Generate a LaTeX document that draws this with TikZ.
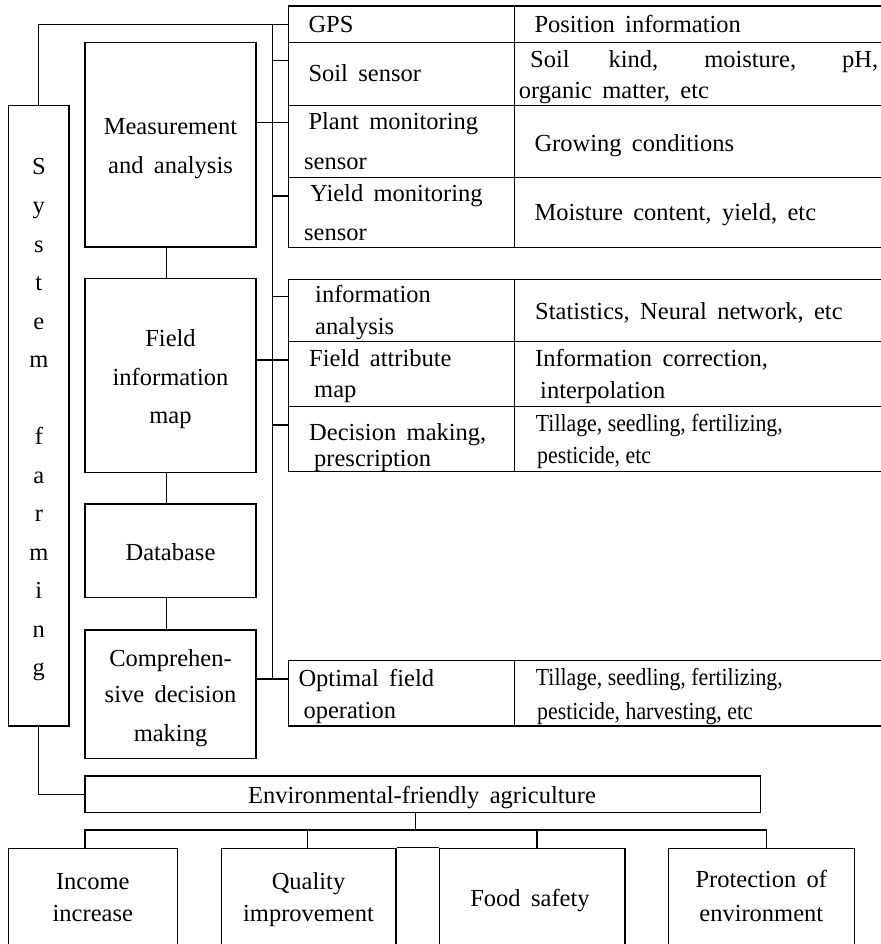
\documentclass[tikz,border=0pt]{standalone}
\usepackage{fontspec}
\setmainfont[WordSpace=1.7]{Liberation Serif}
\newfontfamily\condfont[FakeStretch=0.89]{Liberation Serif}
\usetikzlibrary{fit,calc}
\tikzset{
  ln/.style={line width=1.2pt},
  boxn/.style={draw, line width=1.2pt, inner sep=0pt},
  txt/.style={inner sep=0pt, anchor=base west, font=\fontsize{24.5}{30}\selectfont},
  ctxt/.style={inner sep=0pt, anchor=base west, font=\fontsize{24.5}{30}\selectfont\condfont},
  mtxt/.style={inner sep=0pt, anchor=base, font=\fontsize{24.5}{30}\selectfont},
}
\begin{document}
\begin{tikzpicture}[x=1pt,y=-1pt]
\fill[white] (0,0) rectangle (880,944);
\useasboundingbox (0,0) rectangle (880,944);

% left column boxes
\node[boxn, fit={(8.7,105.3)(69,726)}] (sys) {};
\node[boxn, fit={(85,42.3)(256,247)}] (meas) {};
\node[boxn, fit={(85,278.7)(256,472.3)}] (field) {};
\node[boxn, fit={(85,504)(256,597.7)}] (db) {};
\node[boxn, fit={(85,630)(256,758.3)}] (comp) {};

% table cells
\node[boxn, fit={(288.3,6)(514.3,42.3)}] (gpsL) {};
\node[boxn, fit={(514.3,6)(886,42.3)}] (gpsR) {};
\node[boxn, fit={(288.3,42.3)(514.3,105.3)}] (soilL) {};
\node[boxn, fit={(514.3,42.3)(886,105.3)}] (soilR) {};
\node[boxn, fit={(288.3,105.3)(514.3,177.7)}] (plantL) {};
\node[boxn, fit={(514.3,105.3)(886,177.7)}] (plantR) {};
\node[boxn, fit={(288.3,177.7)(514.3,247.3)}] (yieldL) {};
\node[boxn, fit={(514.3,177.7)(886,247.3)}] (yieldR) {};
\node[boxn, fit={(288.3,279.3)(514.3,341.7)}] (infoL) {};
\node[boxn, fit={(514.3,279.3)(886,341.7)}] (infoR) {};
\node[boxn, fit={(288.3,341.7)(514.3,406.7)}] (faL) {};
\node[boxn, fit={(514.3,341.7)(886,406.7)}] (faR) {};
\node[boxn, fit={(288.3,406.7)(514.3,471.7)}] (decL) {};
\node[boxn, fit={(514.3,406.7)(886,471.7)}] (decR) {};
\node[boxn, fit={(288.3,660.7)(514.3,726)}] (optL) {};
\node[boxn, fit={(514.3,660.7)(886,726)}] (optR) {};

% bottom boxes
\node[boxn, fit={(85,776)(760.7,812.3)}] (env) {};
\node[boxn, fit={(8.3,848.3)(177.3,952)}] (inc) {};
\node[boxn, fit={(221.7,848.3)(396,952)}] (qual) {};
\node[boxn, fit={(439.3,848.3)(625,952)}] (food) {};
\node[boxn, fit={(668.7,848.3)(854.3,952)}] (prot) {};

% connector coordinates
\coordinate (busX) at (272.7,0);
\coordinate (hb) at (0,830);
\coordinate (soilS) at ([yshift=13.1pt]soilL.west);
\coordinate (plantS) at ([yshift=18.8pt]plantL.west);
\coordinate (yieldS) at ([yshift=16.5pt]yieldL.west);
\coordinate (infoS) at ([yshift=13.8pt]infoL.west);
\coordinate (faS) at ([yshift=14.2pt]faL.west);
\coordinate (decS) at ([yshift=14.2pt]decL.west);
\coordinate (optS) at ([yshift=14.4pt]optL.west);

% connectors
\draw[ln] (sys.north) |- (gpsL.west);
\draw[ln] (gpsL.west -| busX) -- (optS -| busX);
\draw[ln] (soilS -| busX) -- (soilS);
\draw[ln] (meas.east |- plantS) -- (plantS);
\draw[ln] (yieldS -| busX) -- (yieldS);
\draw[ln] (infoS -| busX) -- (infoS);
\draw[ln] (field.east |- faS) -- (faS);
\draw[ln] (decS -| busX) -- (decS);
\draw[ln] (comp.east |- optS) -- (optS);
\draw[ln] ([xshift=-3.8pt]meas.south) -- ([xshift=-3.8pt]field.north);
\draw[ln] ([xshift=-3.8pt]field.south) -- ([xshift=-3.8pt]db.north);
\draw[ln] ([xshift=-3.8pt]db.south) -- ([xshift=-3.8pt]comp.north);
\draw[ln] (sys.south) |- (env.west);
\draw[ln] ([xshift=-7pt]env.south) -- ([xshift=-7pt]env.south |- hb);
\draw[ln] ([xshift=-7.8pt]inc.north) |- ([xshift=5.2pt]prot.north |- hb) -- ([xshift=5.2pt]prot.north);
\draw[ln] ([xshift=-1.6pt]qual.north) -- ([xshift=-1.6pt]qual.north |- hb);
\draw[ln] ([xshift=4.8pt]food.north) -- ([xshift=4.8pt]food.north |- hb);
\draw[ln] (qual.north east) -- (food.north west);

% System farming vertical letters
\foreach \ch [count=\i] in {S,y,s,t,e,m,{},f,a,r,m,i,n,g}
  \node[mtxt] (sysc\i) at ({38.85},{175+38.5*(\i-1)}) {\ch};

% left box texts
\node[mtxt] (measT1) at (170.5,135) {Measurement};
\node[mtxt] (measT2) at (170.5,173.3) {and analysis};
\node[mtxt] (fieldT1) at (170.5,346.7) {Field};
\node[mtxt] (fieldT2) at (170.5,385) {information};
\node[mtxt] (fieldT3) at (170.5,423.3) {map};
\node[mtxt] (dbT) at (170.5,560) {Database};
\node[mtxt] (compT1) at (170.5,666) {Comprehen-};
\node[mtxt] (compT2) at (170.5,702.7) {sive decision};
\node[mtxt] (compT3) at (170.5,741) {making};

% table texts
\node[txt] (gpsT) at (308.3,33) {GPS};
\node[txt] (posT) at (534.3,33) {Position information};
\node[txt] (soilT) at (308.3,81.7) {Soil sensor};
\node[txt] (soilR1) at (530,68) {\makebox[348pt][s]{Soil kind, moisture, pH,}};
\node[txt] (soilR2) at (518.7,98.3) {organic matter, etc};
\node[txt] (plantT1) at (308.3,129.3) {Plant monitoring};
\node[txt] (plantT2) at (304,170) {sensor};
\node[txt] (growT) at (534.3,151.7) {Growing conditions};
\node[txt] (yieldT1) at (310,201.7) {Yield monitoring};
\node[txt] (yieldT2) at (304,240) {sensor};
\node[txt] (moistT) at (534.3,220.7) {Moisture content, yield, etc};
\node[txt] (infoT1) at (315,302.7) {information};
\node[txt] (infoT2) at (315,334) {analysis};
\node[txt] (statT) at (535,319.3) {Statistics, Neural network, etc};
\node[txt] (faT1) at (309,366.7) {Field attribute};
\node[txt] (faT2) at (314,397.7) {map};
\node[txt] (corrT1) at (535,366.7) {Information correction,};
\node[txt] (corrT2) at (540,398.3) {interpolation};
\node[txt] (decT1) at (309,440) {Decision making,};
\node[txt] (decT2) at (314,466) {prescription};
\node[ctxt] (tilT1) at (535.7,431.7) {Tillage, seedling, fertilizing,};
\node[ctxt] (tilT2) at (537,463.3) {pesticide, etc};
\node[txt] (optT1) at (298.3,686.7) {Optimal field};
\node[txt] (optT2) at (303.3,718.3) {operation};
\node[ctxt] (op2T1) at (535.7,685) {Tillage, seedling, fertilizing,};
\node[ctxt] (op2T2) at (537,719.3) {pesticide, harvesting, etc};

% bottom texts
\node[mtxt] (envT) at (422,803.3) {Environmental-friendly agriculture};
\node[mtxt] (incT1) at (92.8,889) {Income};
\node[mtxt] (incT2) at (92.8,921.7) {increase};
\node[mtxt] (qualT1) at (308.5,889) {Quality};
\node[mtxt] (qualT2) at (308.5,921.7) {improvement};
\node[mtxt] (foodT) at (530,906) {Food safety};
\node[mtxt] (protT1) at (761.3,887.7) {Protection of};
\node[mtxt] (protT2) at (761.3,921.7) {environment};
\end{tikzpicture}
\end{document}
